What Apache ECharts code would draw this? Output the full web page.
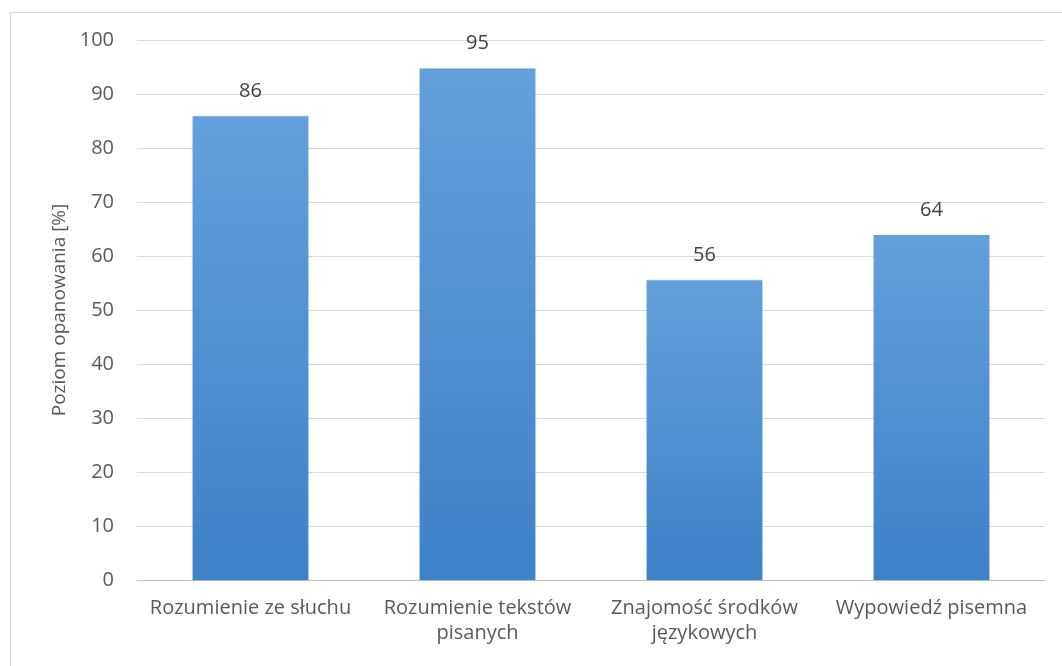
<!DOCTYPE html>
<html><head><meta charset="utf-8">
<script src="https://cdn.jsdelivr.net/npm/echarts@6/dist/echarts.min.js"></script>
<style>
html,body{margin:0;padding:0;background:#fff;overflow:hidden;}
#frame{position:absolute;left:10px;top:12px;width:1100px;height:700px;border:1px solid #d9d9d9;box-sizing:border-box;}
#c{position:absolute;left:0;top:0;width:1062px;height:666px;}
</style></head>
<body>
<div id="frame"></div>
<div id="c"></div>
<script>
const categories = ['Rozumienie ze słuchu', 'Rozumienie tekstów\npisanych', 'Znajomość środków\njęzykowych', 'Wypowiedź pisemna'];
const values = [85.9, 94.7, 55.5, 63.9];
const yTicks = { min: 0, max: 100, interval: 10 };
const yName = 'Poziom opanowania [%]';

const chart = echarts.init(document.getElementById('c'), null, {renderer:'canvas'});
const font = '"Open Sans", "Noto Sans", sans-serif';
chart.setOption({
  animation: false,
  grid: { left: 137, right: 17, top: 40, bottom: 86 },
  xAxis: {
    type: 'category', data: categories,
    axisLine: { lineStyle: { color: '#bfbfbf', width: 1 } },
    axisTick: { show: false },
    axisLabel: { color: '#595959', fontSize: 20, fontFamily: font, margin: 16, lineHeight: 25, interval: 0 }
  },
  yAxis: {
    type: 'value', min: yTicks.min, max: yTicks.max, interval: yTicks.interval,
    name: yName, nameLocation: 'middle', nameGap: 67, nameRotate: 90,
    nameTextStyle: { color: '#595959', fontSize: 19, fontFamily: font, letterSpacing: 2 },
    axisLine: { show: false }, axisTick: { show: false },
    axisLabel: { color: '#595959', fontSize: 20, fontFamily: font, margin: 23 },
    splitLine: { lineStyle: { color: '#d9d9d9', width: 1 } }
  },
  series: [{
    type: 'bar', data: values, barWidth: '51%',
    itemStyle: {
      color: new echarts.graphic.LinearGradient(0, 0, 0, 1, [
        { offset: 0, color: '#62a0dc' },
        { offset: 1, color: '#3d81c7' }
      ]),
      shadowColor: 'rgba(0,0,0,0.15)', shadowBlur: 3
    },
    label: {
      show: true, position: 'top', distance: 15,
      color: '#404040', fontSize: 20, fontFamily: font,
      formatter: p => Math.round(p.value)
    }
  }]
});
</script>
</body></html>
